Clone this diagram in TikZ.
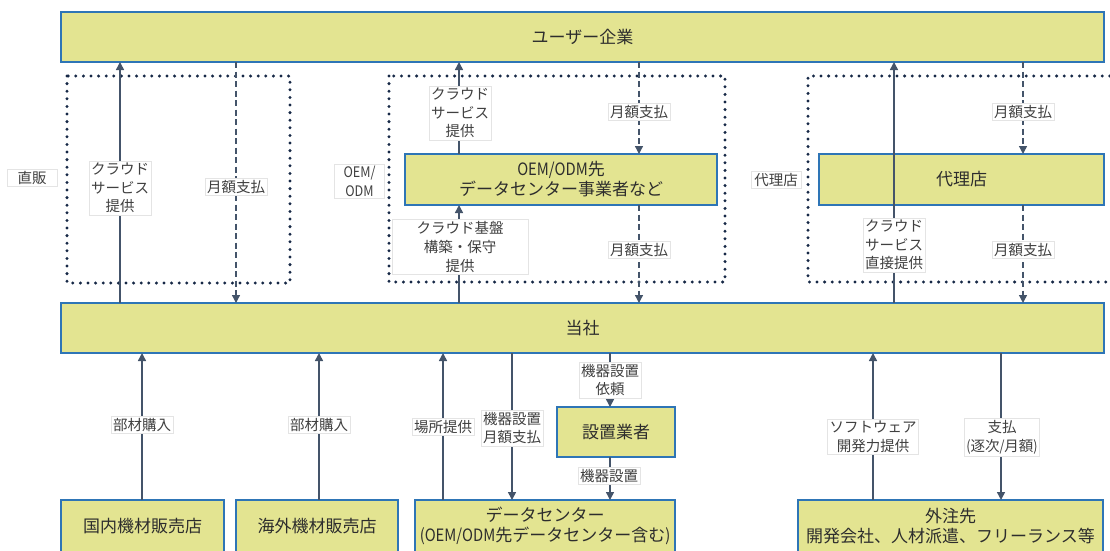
\documentclass[tikz,border=0pt]{standalone}
\usepackage{fontspec}
\setmainfont{Noto Sans CJK JP}
\newfontfamily\lat{Noto Sans CJK JP}[FakeStretch=0.87]
\usetikzlibrary{arrows.meta}
\definecolor{boxfill}{RGB}{227,228,145}
\definecolor{boxline}{RGB}{46,117,182}
\definecolor{arrowc}{RGB}{68,84,106}
\definecolor{dotc}{RGB}{22,40,70}
\definecolor{txt}{RGB}{45,45,45}
\definecolor{lbltxt}{RGB}{64,64,64}
\definecolor{lblline}{RGB}{228,228,228}
\tikzset{
  ent/.style={draw=boxline, fill=boxfill, line width=1.4pt, inner sep=0pt, outer sep=0pt,
    align=center, text=txt, font=\fontsize{17}{20}\selectfont},
  lbl/.style={draw=lblline, fill=white, line width=0.6pt, inner sep=2pt, align=center,
    text=lbltxt, font=\fontsize{14.5}{18.7}\selectfont},
  sidelbl/.style={lbl, minimum width=50pt},
  upar/.style={draw=arrowc, line width=1.5pt, -{Triangle[width=8pt,length=8pt]}},
  dnar/.style={draw=arrowc, line width=1.5pt, -{Triangle[width=8pt,length=8pt]}},
  dashar/.style={draw=arrowc, line width=1.3pt, dash pattern=on 6pt off 3.5pt, -{Triangle[width=8pt,length=8pt]}},
  dotbox/.style={draw=dotc, line width=3.3pt, line cap=round, dash pattern=on 0pt off 7.6pt},
}
\begin{document}
\begin{tikzpicture}[x=1pt,y=-1pt]
\useasboundingbox (0,0) rectangle (1110,550);
% dotted group frames
\draw[dotbox] (67,76) rectangle (290,283);
\draw[dotbox] (389,76) rectangle (725,282);
\draw[dotbox] (1125,76) -- (808,76) -- (808,282) -- (1125,282);
% entities
\node[ent, minimum width=1043pt, minimum height=50pt] (user) at (582.5,37) {ユーザー企業};
\node[ent, minimum width=1043pt, minimum height=50pt] (tosha) at (582.5,328) {当社};
\node[ent, minimum width=312pt, minimum height=51pt] (oem) at (561,179.5) {{\lat OEM/ODM}先\\データセンター事業者など};
\node[ent, minimum width=285pt, minimum height=51pt] (dairi) at (961.5,179.5) {代理店};
\node[ent, minimum width=118pt, minimum height=50pt] (setchi) at (616,432) {設置業者};
\node[ent, minimum width=163pt, minimum height=52pt] (kokunai) at (142.5,526) {国内機材販売店};
\node[ent, minimum width=162pt, minimum height=52pt] (kaigai) at (317,526) {海外機材販売店};
\node[ent, minimum width=260pt, minimum height=52pt] (dc) at (545,526) {データセンター\\{\lat(OEM/ODM}先データセンター含む{\lat)}};
\node[ent, minimum width=305pt, minimum height=52pt] (gaichu) at (950.5,526) {外注先\\開発会社、人材派遣、フリーランス等};
% column coordinates
\coordinate (c1) at (120,0);
\coordinate (c2) at (236,0);
\coordinate (c3) at (459,0);
\coordinate (c4) at (639,0);
\coordinate (c5) at (894,0);
\coordinate (c6) at (1023,0);
\coordinate (b1) at (142,0);
\coordinate (b2) at (319,0);
\coordinate (b3) at (443,0);
\coordinate (b4) at (512,0);
\coordinate (b5) at (610,0);
\coordinate (b6) at (873,0);
\coordinate (b7) at (1001,0);
% upper connectors
\draw[upar] (tosha.north -| c1) -- (user.south -| c1);
\draw[dashar] (user.south -| c2) -- (tosha.north -| c2);
\draw[upar] (oem.north -| c3) -- (user.south -| c3);
\draw[dashar] (user.south -| c4) -- (oem.north -| c4);
\draw[upar] (tosha.north -| c3) -- (oem.south -| c3);
\draw[dashar] (oem.south -| c4) -- (tosha.north -| c4);
\draw[upar] (tosha.north -| c5) -- (user.south -| c5);
\draw[dashar] (user.south -| c6) -- (dairi.north -| c6);
\draw[dashar] (dairi.south -| c6) -- (tosha.north -| c6);
% lower connectors
\draw[upar] (kokunai.north -| b1) -- (tosha.south -| b1);
\draw[upar] (kaigai.north -| b2) -- (tosha.south -| b2);
\draw[upar] (dc.north -| b3) -- (tosha.south -| b3);
\draw[dnar] (tosha.south -| b4) -- (dc.north -| b4);
\draw[dnar] (tosha.south -| b5) -- (setchi.north -| b5);
\draw[dnar] (setchi.south -| b5) -- (dc.north -| b5);
\draw[upar] (gaichu.north -| b6) -- (tosha.south -| b6);
\draw[dnar] (tosha.south -| b7) -- (gaichu.north -| b7);
% side labels
\node[sidelbl] (s1) at (32,178) {直販};
\node[sidelbl] (s2) at (359.5,181) {\lat OEM/\\\lat ODM};
\node[sidelbl] (s3) at (776,180) {代理店};
% connector labels
\node[lbl] (l1) at (120,188) {クラウド\\サービス\\提供};
\node[lbl] (l2) at (236,187) {月額支払};
\node[lbl] (l3) at (460,113) {クラウド\\サービス\\提供};
\node[lbl] (l4) at (639,112) {月額支払};
\node[lbl, minimum width=136pt] (l5) at (460,247) {クラウド基盤\\構築・保守\\提供};
\node[lbl] (l6) at (639,250) {月額支払};
\node[lbl] (l7) at (894,245) {クラウド\\サービス\\直接提供};
\node[lbl] (l8) at (1023,112) {月額支払};
\node[lbl] (l9) at (1023,250) {月額支払};
\node[lbl] (m1) at (142,425) {部材購入};
\node[lbl] (m2) at (319,425) {部材購入};
\node[lbl] (m3) at (443,427) {場所提供};
\node[lbl] (m4) at (512,428) {機器設置\\月額支払};
\node[lbl] (m5) at (610,380) {機器設置\\依頼};
\node[lbl] (m6) at (609,476) {機器設置};
\node[lbl] (m7) at (873,437) {ソフトウェア\\開発力提供};
\node[lbl] (m8) at (1002,437) {支払\\{\lat(}逐次{\lat/}月額{\lat)}};
\end{tikzpicture}
\end{document}
